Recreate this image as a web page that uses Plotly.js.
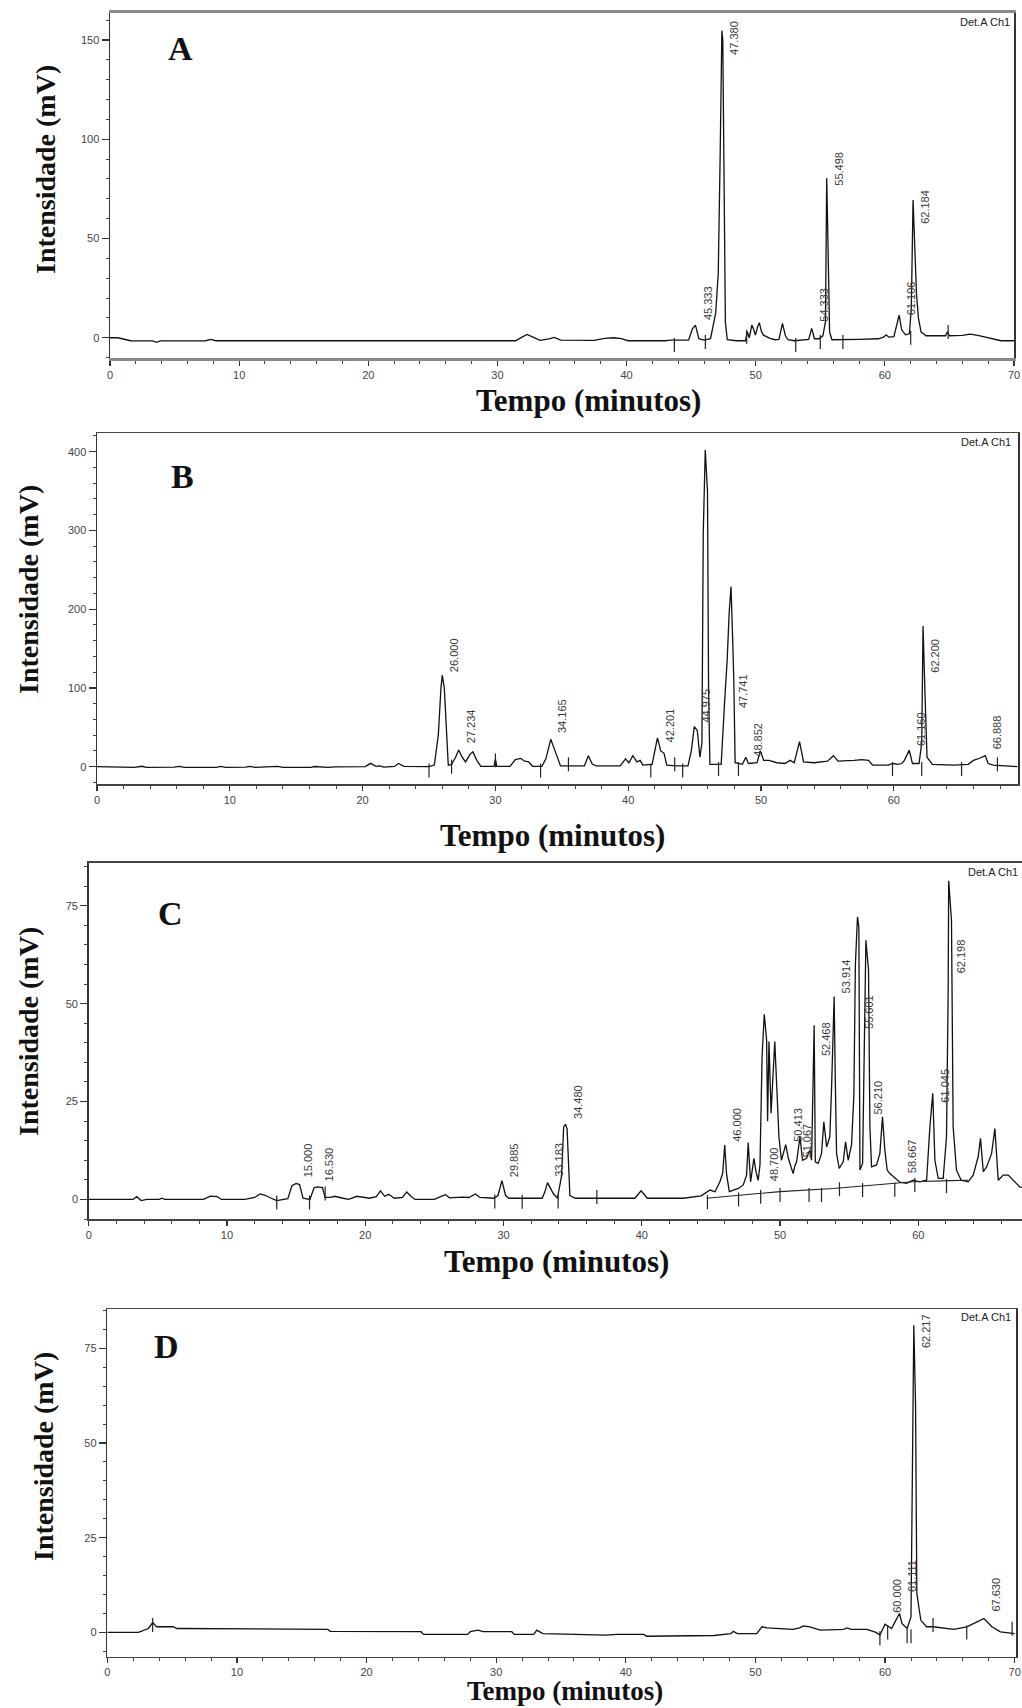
<!DOCTYPE html>
<html>
<head>
<meta charset="utf-8">
<script src="https://cdn.plot.ly/plotly-3.0.1.min.js"></script>
<style>
  html, body { margin: 0; padding: 0; background: #ffffff; }
  #chart { width: 1022px; height: 1708px; }
</style>
</head>
<body>
<div id="chart"></div>
<script>
// ---------------- Chromatogram A ----------------
const timeA = [0, 0.6, 1.6, 3.3, 3.6, 3.9, 7.4, 7.8, 8.2, 31.4, 31.9, 32.3, 32.8, 33.3, 34.0, 34.4, 34.9,
  37.5, 38.3, 39.0, 39.6, 40.1, 43.0, 43.4, 44.8, 45.1, 45.333, 45.6, 46.0, 46.5, 46.9, 47.1, 47.25,
  47.38, 47.45, 47.55, 47.65, 47.8, 48.5, 49.2, 49.35, 49.5, 49.7, 49.85, 49.97, 50.15, 50.28, 50.45,
  50.6, 51.1, 51.5, 51.8, 52.07, 52.3, 52.5, 53.0, 53.5, 54.1, 54.333, 54.55, 54.9, 55.2, 55.4, 55.498,
  55.6, 55.72, 55.9, 56.7, 58.0, 59.5, 59.9, 60.1, 60.3, 60.7, 60.95, 61.106, 61.3, 61.6, 61.9, 62.05,
  62.184, 62.3, 62.45, 62.6, 62.8, 63.2, 64.7, 64.85, 65.0, 66.0, 66.6, 67.2, 68.2, 69.0, 70.0];
const mvA = [0, 0, -1.5, -1.6, -2.3, -1.6, -1.5, -0.8, -1.5, -1.5, 0.3, 1.7, 0.2, -1.3, -0.6, 0.2, -1.2,
  -1.3, -0.3, 0, -0.4, -1.5, -1.5, -1.2, -1.2, 4.5, 6.4, -0.5, -1.2, -0.5, 12.4, 32.5, 93,
  154.7, 150, 64, 8, -1, -1.5, -1.5, 3, 0, 6.4, 4, 1.3, 5.5, 7.6, 3,
  1.3, -0.3, -1, -0.8, 7.2, 1, -1, -1.5, -1.2, -0.8, 4.7, -0.5, -0.5, 1, 8, 80.3,
  46, 3, -1, -1, -0.8, -0.5, 0.3, 1.5, 0.3, 0.5, 8, 11.4, 4, 1.5, 2, 15,
  69.4, 45, 21.9, 10, 3, 1, 1, 3, 1, 1.2, 1.8, 1.2, -0.5, -1.5, -1.5];
const peaksA = [45.333, 47.380, 54.333, 55.498, 61.106, 62.184];
const cutTimeA = [43.7, 46.1, 49.3, 53.1, 55.0, 56.75, 62.0, 64.9];
const cutLevelA = [-3.7, -2.2, 0.5, -3.7, -2.2, -2.2, 0, 2.9];

// ---------------- Chromatogram B ----------------
const timeB = [0, 2.8, 3.4, 3.7, 5.8, 6.2, 6.6, 9.0, 9.3, 9.7, 11.2, 11.5, 11.9, 13.3, 13.6, 14.0, 16.1,
  16.4, 17.4, 17.9, 20.2, 20.6, 21.0, 21.3, 21.6, 22.4, 22.7, 23.1, 25.0, 25.4, 25.7, 25.9, 26.0,
  26.15, 26.3, 26.45, 26.7, 27.0, 27.234, 27.5, 27.75, 28.1, 28.3, 28.6, 28.9, 29.9, 30.0, 30.1,
  31.1, 31.5, 31.9, 32.2, 32.5, 32.8, 33.5, 33.8, 34.165, 34.4, 34.6, 34.9, 36.7, 37.0, 37.3, 37.6,
  39.4, 39.8, 40.05, 40.35, 40.65, 40.9, 41.1, 41.8, 42.0, 42.201, 42.45, 42.7, 42.9, 43.6, 44.5,
  44.75, 44.975, 45.2, 45.4, 45.55, 45.65, 45.8, 45.97, 46.05, 46.15, 47.0, 47.25, 47.45, 47.6,
  47.741, 47.85, 47.95, 48.05, 48.6, 48.852, 49.05, 49.7, 49.95, 50.2, 50.6, 51.2, 51.8, 52.2, 52.5,
  52.9, 53.2, 54.0, 54.6, 55.0, 55.45, 55.8, 57.0, 57.6, 58.1, 58.4, 59.6, 59.9, 60.3, 60.6, 60.8,
  61.160, 61.4, 61.9, 62.1, 62.200, 62.35, 62.5, 62.9, 64.5, 65.6, 66.0, 66.5, 66.888, 67.1, 67.5, 69.3];
const mvB = [0, -1, 0.5, -0.8, -0.5, 0.3, -1, -0.8, 0.3, -0.8, -0.6, 0.4, -0.8, -0.6, 0.3, -0.8, -0.8,
  0.2, -1, -0.2, 0, 4.2, 0.5, 1, -0.5, 0.3, 4, 0.5, 0, 2, 40, 100, 116.4,
  100, 40, 2, 3, 12, 21.2, 12, 6, 16, 19, 8, 0.5, 0.5, 10, 0.5,
  0.5, 9, 10.6, 7, 6, 0.5, 0.5, 10, 34.7, 25, 15, 1, 1, 14, 3, 1,
  1, 10, 5, 14, 6, 8, 2, 3, 20, 36.5, 20, 17, 2, 1, 1,
  20, 50.8, 46, 12, 30, 296, 402, 349, 100, 3, 3, 80, 135, 195,
  228.6, 170, 110, 5, 3, 12, 4, 5, 20, 8, 8, 5, 4, 8, 5,
  31.7, 6, 5, 6, 7, 14, 7, 8, 9, 8, 2, 2, 4, 3, 4, 8,
  21, 4, 4, 30, 178.7, 90, 12, 3, 2, 3, 8, 11, 14, 4, 2, 0];
const peaksB = [26.000, 27.234, 34.165, 42.201, 44.975, 47.741, 48.852, 61.160, 62.200, 66.888];
const cutTimeB = [25.0, 26.7, 30.0, 33.4, 35.5, 41.7, 43.5, 44.1, 46.8, 48.3, 59.9, 62.1, 65.1, 67.8];
const cutLevelB = [-5, 0, 8, -5, 3, -5, 3, -5, -3, -3, -3, -3, -3, 3];

// ---------------- Chromatogram C ----------------
const timeC = [0, 3.2, 3.47, 3.8, 4.2, 5.1, 5.3, 5.5, 8.3, 8.8, 9.3, 9.6, 11.3, 11.6, 12.0, 12.4, 12.8,
  13.2, 13.6, 14.4, 14.7, 15.000, 15.25, 15.5, 16.0, 16.3, 16.530, 16.9, 17.1, 17.5, 17.8, 18.4, 18.8,
  19.4, 19.8, 20.3, 20.8, 21.1, 21.4, 21.7, 22.1, 22.7, 23.0, 23.3, 23.6, 25.0, 25.5, 25.8, 26.1,
  27.0, 27.5, 27.97, 28.3, 29.3, 29.6, 29.885, 30.15, 30.4, 32.8, 33.0, 33.183, 33.6, 33.9, 34.2,
  34.35, 34.480, 34.6, 34.8, 35.2, 39.5, 39.95, 40.4, 43.0, 44.3, 44.93, 45.3, 45.65, 45.85, 46.000,
  46.13, 46.33, 46.98, 47.34, 47.58, 47.7, 47.87, 48.11, 48.26, 48.42, 48.55, 48.700, 48.86, 49.03,
  49.1, 49.2, 49.35, 49.62, 49.8, 49.92, 50.1, 50.413, 50.6, 50.95, 51.067, 51.2, 51.44, 51.63, 51.92,
  52.16, 52.28, 52.468, 52.55, 52.76, 53.0, 53.17, 53.37, 53.6, 53.73, 53.914, 54.0, 54.09, 54.28,
  54.57, 54.74, 54.93, 55.17, 55.34, 55.45, 55.601, 55.7, 55.78, 55.97, 56.13, 56.210, 56.4, 56.5,
  56.62, 56.98, 57.22, 57.41, 57.58, 57.75, 57.94, 58.18, 58.667, 59.15, 59.63, 60.1, 60.6, 60.84,
  61.045, 61.2, 61.44, 61.8, 62.04, 62.16, 62.198, 62.4, 62.52, 62.76, 63.1, 63.6, 63.97, 64.33,
  64.5, 64.7, 64.94, 65.3, 65.54, 65.78, 66.14, 66.5, 66.86, 67.34, 67.6];
const mvC = [0, 0, 0.7, -0.3, 0, 0, 0.3, 0, 0, 0.85, 0.7, 0, 0, 0.3, 0.5, 1.4, 1,
  0.3, -0.3, 0.2, 3.5, 4.1, 3.8, 0.3, 0, 3, 3.2, 3, 0.5, 0.5, 0.8, 0.3, 0,
  0.8, 0.5, 0.3, 0.7, 2.2, 0.8, 1.3, 0.3, 0.5, 1.9, 0.8, 0, 0, 0.8, 1.2, 0.4,
  0.6, 0.5, 1.4, 0.5, 0.3, 1, 4.8, 1, 0.3, 0.3, 2, 4.3, 1.5, 0.3, 6,
  18.5, 19.2, 18, 1, 0.3, 0.3, 2.2, 0.3, 0.3, 0.9, 2.4, 1.95, 4.5, 6.6, 13.9,
  6.6, 2, 2.8, 3.7, 6.2, 14.5, 4.5, 10.5, 7.1, 4.9, 8.8, 36.4, 47.3, 40.7,
  20, 40.3, 22, 40.3, 26.6, 16, 10, 14, 10.5, 6.6, 8.5, 9.6, 16, 10, 10.5,
  12.6, 10, 44.5, 9.6, 9.2, 11.7, 19.8, 13.4, 16, 28.8, 51.8, 29.6, 11.7, 7.9,
  9.6, 14.7, 10, 13.9, 26.6, 60, 72.2, 69.6, 7.5, 9.2, 47.5, 66.2, 58.6, 18.6,
  8.3, 8.8, 11.7, 21.1, 12.6, 7.5, 6.6, 5.8, 4.4, 4.1, 4.9, 4.5, 4.9, 18.6,
  27.1, 10, 5.4, 5.4, 16, 53, 81.4, 71.3, 18.6, 7.5, 4.9, 4.5, 6.2, 10.9,
  15.6, 7.1, 8.3, 11.7, 18.1, 4.9, 6.2, 6.2, 4.9, 3.2, 3];
const peaksC = [15.000, 16.530, 29.885, 33.183, 34.480, 46.000, 48.700, 50.413, 51.067, 52.468,
  53.914, 55.601, 56.210, 58.667, 61.045, 62.198];
const cutTimeC = [13.6, 15.97, 17.1, 29.37, 31.35, 33.95, 36.75, 44.75, 47.0, 48.6, 50.0, 52.1, 53.0,
  54.3, 55.97, 58.3, 59.75, 62.04];
const cutLevelC = [-0.8, -0.8, 1.5, -0.5, -0.6, -0.5, 0.6, -0.7, 0, 0.7, 1.1, 1.1, 1.1, 2.6, 2.4, 2.5, 3.7, 3.4];
const driftTimeC = [44.7, 47.0, 50.0, 53.85, 57.0, 59.6, 62.3, 63.6];
const driftLevelC = [0.3, 1.1, 2.0, 2.8, 3.7, 4.5, 4.8, 4.9];

// ---------------- Chromatogram D ----------------
const timeD = [0, 2.4, 3.17, 3.5, 3.8, 5.1, 5.35, 11.0, 11.2, 17.0, 17.2, 20.5, 20.7, 24.2, 24.4, 27.8,
  28.0, 28.6, 29.0, 31.2, 31.4, 32.9, 33.13, 33.6, 38.5, 39.3, 41.4, 41.6, 46.8, 48.1, 48.3, 48.6,
  50.1, 50.5, 50.9, 52.9, 53.4, 53.7, 54.2, 55.0, 56.8, 57.05, 57.4, 58.6, 59.3, 59.6, 60.000,
  60.5, 60.8, 61.111, 61.3, 61.7, 62.0, 62.14, 62.217, 62.35, 62.45, 62.6, 62.76, 63.2, 63.7, 65.3,
  66.3, 67.1, 67.630, 68.24, 68.9, 70.0];
const mvD = [0, 0, 1.05, 2.6, 1.5, 1.5, 1.05, 1.0, 0.8, 0.8, 0.3, 0.3, 0.2, 0.2, -0.5, -0.5,
  0.2, 0.6, 0.2, 0.2, -0.5, -0.5, 0.6, -0.3, -0.7, -0.5, -0.5, -1, -0.8, -0.3, 0.3, -0.3,
  -0.3, 1.5, 1.2, 0.8, 1.2, 1.7, 1.5, 0.6, 0.8, 1.2, 0.8, 0.8, 0, -0.7, 2.2,
  1.05, 3, 5.0, 2.4, 1.05, 4.1, 43.7, 81.1, 60.4, 10.3, 6.8, 3.2, 1.5, 1.5, 0.8,
  1.5, 2.8, 3.7, 1.5, 0.15, -0.3];
const peaksD = [60.000, 61.111, 62.217, 67.630];
const cutTimeD = [3.5, 59.6, 60.2, 61.7, 62.0, 63.7, 66.3, 69.8];
const cutLevelD = [2, -1.5, 0, -1, -1, 2, 0, 1];

const axisTexts = ['Intensidade (mV)', 'Tempo (minutos)', 'Det.A Ch1'];

// ---------------- layout helpers ----------------
const W = 1022, H = 1708;
const px = x => x / W;
const py = y => 1 - y / H;
const SERIF = 'Liberation Serif, Times New Roman, serif';
const SANS = 'Liberation Sans, Arial, sans-serif';

// Per-panel frame (pixel box), axis ranges, text placement.
// labelMid: height (mV) at which each retention-time label is centred.
// xtitle: [centre x, y, anchor, font size]
const panels = [
  { name: 'A', t: timeA, v: mvA, peaks: peaksA, cutT: cutTimeA, cutV: cutLevelA,
    labelMid: [17.7, 151, 16.5, 85, 20, 66],
    box: [110, 13, 1014, 358], xr: [0, 70], yr: [-10.2, 163.6], ydt: 50, yminor: 10,
    xline: { color: '#8a8a8a', width: 3 }, yline: { color: '#333', width: 1.5 }, mirrorY: true,
    letter: [180, 48], ytitle: [45, 170], xtitle: [588, 400, 'middle', 31], det: [1012, 22] },
  { name: 'B', t: timeB, v: mvB, peaks: peaksB, cutT: cutTimeB, cutV: cutLevelB,
    labelMid: [142, 51, 64, 53, 78, 96, 34, 48, 141, 44],
    box: [97, 433, 1018, 784], xr: [0, 69.35], yr: [-22, 423.7], ydt: 100, yminor: 20,
    xline: { color: '#444', width: 1.5 }, yline: { color: '#333', width: 1.5 }, mirrorY: true,
    letter: [182, 477], ytitle: [28, 590], xtitle: [552, 835, 'middle', 31], det: [1013, 442] },
  { name: 'C', t: timeC, v: mvC, peaks: peaksC, cutT: cutTimeC, cutV: cutLevelC,
    labelMid: [10, 9, 10, 10, 25, 19, 9, 19, 15, 41, 57, 48, 26, 11, 29, 62],
    box: [88.7, 862.7, 1022, 1219], xr: [0, 67.5], yr: [-5, 86], ydt: 25, yminor: 5,
    xline: { color: '#444', width: 1.5 }, yline: { color: '#333', width: 1.5 }, mirrorY: false,
    letter: [170, 913], ytitle: [28, 1032], xtitle: [556, 1261, 'middle', 31], det: [1020, 872] },
  { name: 'D', t: timeD, v: mvD, peaks: peaksD, cutT: cutTimeD, cutV: cutLevelD,
    labelMid: [9.7, 15, 79.5, 10],
    box: [107.3, 1309.3, 1016, 1656.7], xr: [0, 70.1], yr: [-6.4, 85.3], ydt: 25, yminor: 5,
    xline: { color: '#444', width: 1.5 }, yline: { color: '#333', width: 1.5 }, mirrorY: true,
    letter: [166, 1346], ytitle: [43, 1457], xtitle: [565, 1708, 'bottom', 27], det: [1013, 1317] }
];

const traces = [];
const annotations = [];
const layout = {
  width: W, height: H,
  margin: { l: 0, r: 0, t: 0, b: 0 },
  paper_bgcolor: '#ffffff', plot_bgcolor: '#ffffff',
  showlegend: false,
  font: { family: SANS, size: 11, color: '#333' }
};

panels.forEach((p, i) => {
  const n = i === 0 ? '' : String(i + 1);
  const xa = 'x' + n, ya = 'y' + n;
  const [x0, y0, x1, y1] = p.box;

  layout['xaxis' + n] = {
    domain: [px(x0), Math.min(1, px(x1))], range: p.xr, anchor: ya,
    showgrid: false, zeroline: false,
    showline: true, linecolor: p.xline.color, linewidth: p.xline.width, mirror: true,
    ticks: 'outside', ticklen: 5, tickwidth: 1.2, tickcolor: '#333',
    dtick: 10, tick0: 0,
    minor: { dtick: 2, ticks: 'outside', ticklen: 3, tickwidth: 1, tickcolor: '#444' },
    tickfont: { family: SANS, size: 11, color: '#444' }
  };
  layout['yaxis' + n] = {
    domain: [py(y1), py(y0)], range: p.yr, anchor: xa,
    showgrid: false, zeroline: false,
    showline: true, linecolor: p.yline.color, linewidth: p.yline.width, mirror: p.mirrorY,
    ticks: 'outside', ticklen: 7, tickwidth: 1.2, tickcolor: '#333',
    dtick: p.ydt, tick0: 0,
    minor: { dtick: p.yminor, ticks: 'outside', ticklen: 3, tickwidth: 1, tickcolor: '#444' },
    tickfont: { family: SANS, size: 11, color: '#444' }
  };

  // detector signal
  traces.push({
    type: 'scatter', mode: 'lines', x: p.t, y: p.v, xaxis: xa, yaxis: ya,
    line: { color: '#111', width: 1.3 }, hoverinfo: 'skip'
  });

  // integration baseline under the late peaks of C
  if (p.name === 'C') {
    traces.push({
      type: 'scatter', mode: 'lines', x: driftTimeC, y: driftLevelC, xaxis: xa, yaxis: ya,
      line: { color: '#222', width: 1.1 }, hoverinfo: 'skip'
    });
  }

  // peak start/end marks
  traces.push({
    type: 'scatter', mode: 'markers', x: p.cutT, y: p.cutV, xaxis: xa, yaxis: ya,
    marker: { symbol: 'line-ns', size: 10, line: { color: '#222', width: 1.2 } },
    hoverinfo: 'skip'
  });

  // retention-time labels beside each peak
  p.peaks.forEach((tp, j) => {
    annotations.push({
      xref: xa, yref: ya, x: tp, y: p.labelMid[j],
      text: tp.toFixed(3), textangle: -90, showarrow: false,
      xanchor: 'center', yanchor: 'middle', xshift: 12,
      font: { family: SANS, size: 11, color: '#3a3a3a' }
    });
  });

  // panel letter
  annotations.push({
    xref: 'paper', yref: 'paper', x: px(p.letter[0]), y: py(p.letter[1]),
    text: '<b>' + p.name + '</b>', showarrow: false, xanchor: 'center', yanchor: 'middle',
    font: { family: SERIF, size: 34, color: '#111' }
  });
  // axis titles
  annotations.push({
    xref: 'paper', yref: 'paper', x: px(p.ytitle[0]), y: py(p.ytitle[1]),
    text: '<b>' + axisTexts[0] + '</b>', textangle: -90, showarrow: false,
    xanchor: 'center', yanchor: 'middle',
    font: { family: SERIF, size: 28, color: '#111' }
  });
  annotations.push({
    xref: 'paper', yref: 'paper', x: px(p.xtitle[0]), y: py(p.xtitle[1]),
    text: '<b>' + axisTexts[1] + '</b>', showarrow: false,
    xanchor: 'center', yanchor: p.xtitle[2],
    font: { family: SERIF, size: p.xtitle[3], color: '#111' }
  });
  // detector tag
  annotations.push({
    xref: 'paper', yref: 'paper', x: px(p.det[0]), y: py(p.det[1]),
    text: axisTexts[2], showarrow: false, xanchor: 'right', yanchor: 'middle',
    font: { family: SANS, size: 11, color: '#222' }
  });
});

layout.annotations = annotations;

Plotly.newPlot('chart', traces, layout, { staticPlot: true, displayModeBar: false });
</script>
</body>
</html>
